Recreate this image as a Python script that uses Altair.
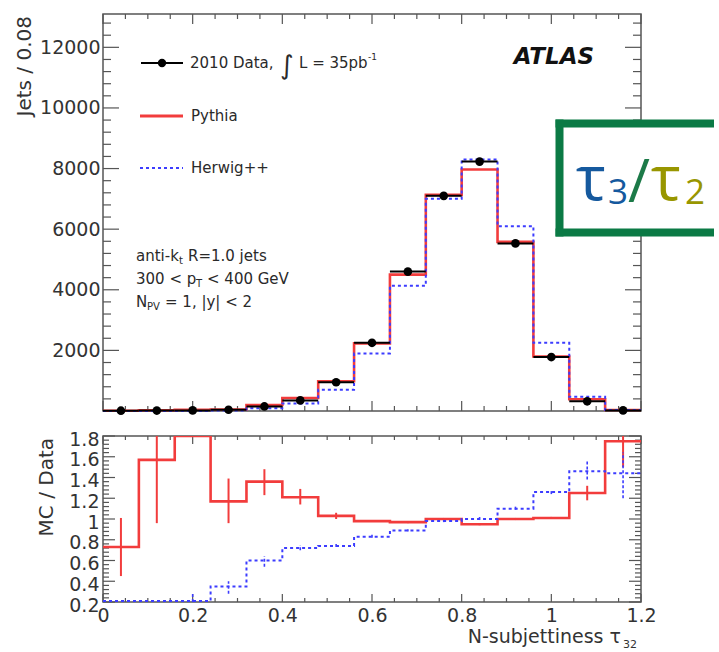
import altair as alt
import pandas as pd

# ---------------- data ----------------
bin_lo = [0.00, 0.08, 0.16, 0.24, 0.32, 0.40, 0.48, 0.56, 0.64, 0.72, 0.80, 0.88, 0.96, 1.04, 1.12]
bin_hi = [0.08, 0.16, 0.24, 0.32, 0.40, 0.48, 0.56, 0.64, 0.72, 0.80, 0.88, 0.96, 1.04, 1.12, 1.20]
bin_mid = [0.04, 0.12, 0.20, 0.28, 0.36, 0.44, 0.52, 0.60, 0.68, 0.76, 0.84, 0.92, 1.00, 1.08, 1.16]

data_jets = [10, 15, 20, 40, 150, 350, 950, 2250, 4600, 7100, 8230, 5530, 1780, 320, 20]
pythia_jets = [8, 24, 40, 48, 200, 430, 980, 2230, 4500, 7130, 7970, 5580, 1800, 390, 35]
herwig_jets = [2, 3, 4, 14, 90, 250, 700, 1900, 4130, 7000, 8300, 6100, 2250, 470, 29]

pythia_ratio = [0.73, 1.57, 1.80, 1.17, 1.36, 1.21, 1.03, 0.98, 0.97, 1.00, 0.95, 1.00, 1.01, 1.25, 1.75]
pythia_ratio_lo = [0.45, 0.96, 1.80, 0.96, 1.23, 1.14, 1.00, 0.97, 0.96, 0.99, 0.94, 0.99, 1.00, 1.18, 1.50]
pythia_ratio_hi = [1.01, 1.85, 1.80, 1.39, 1.48, 1.29, 1.06, 0.99, 0.98, 1.01, 0.96, 1.01, 1.02, 1.32, 1.85]

herwig_ratio = [0.21, 0.21, 0.21, 0.35, 0.60, 0.72, 0.74, 0.83, 0.89, 0.98, 1.00, 1.10, 1.26, 1.46, 1.44]
herwig_ratio_lo = [0.21, 0.21, 0.20, 0.28, 0.54, 0.70, 0.73, 0.82, 0.88, 0.97, 0.99, 1.09, 1.24, 1.38, 1.20]
herwig_ratio_hi = [0.21, 0.21, 0.28, 0.40, 0.64, 0.75, 0.76, 0.85, 0.90, 0.99, 1.02, 1.12, 1.28, 1.56, 1.64]

# axis ticks
x_major = [0.0, 0.2, 0.4, 0.6, 0.8, 1.0, 1.2]
x_minor = [0.05, 0.10, 0.15, 0.25, 0.30, 0.35, 0.45, 0.50, 0.55, 0.65, 0.70, 0.75,
           0.85, 0.90, 0.95, 1.05, 1.10, 1.15]
y1_major = [0, 2000, 4000, 6000, 8000, 10000, 12000]
y1_minor = [v for v in range(400, 13100, 400) if v % 2000]
y2_major = [0.2, 0.4, 0.6, 0.8, 1.0, 1.2, 1.4, 1.6, 1.8]
y2_minor = [round(0.2 + 0.04 * i, 2) for i in range(1, 40) if i % 5]

# ---------------- styling ----------------
W, H1, H2 = 538, 397, 166
RED = "#f23c3c"
BLUE = "#3c3cff"
TICK = "#555555"
TXT = "#2a2a2a"

xs = alt.Scale(domain=[0, 1.2], nice=False, zero=False)
ys1 = alt.Scale(domain=[0, 13100], nice=False)
ys2 = alt.Scale(domain=[0.2, 1.8], nice=False, zero=False)

fmt_expr = "abs(datum.value - round(datum.value)) < 1e-9 ? format(datum.value, 'd') : format(datum.value, '.1f')"

y1_axis = alt.Axis(values=y1_major[1:], format="d", title=None, ticks=False, tickSize=0,
                   domain=False, grid=False, labelPadding=3, labelFontSize=19, labelColor="#333")
y2_axis = alt.Axis(values=y2_major, labelExpr=fmt_expr, title=None, ticks=False, tickSize=0,
                   domain=False, grid=False, labelPadding=4, labelFontSize=19, labelColor="#333",
                   labelOffset=3, labelFlush=False)
x2_axis = alt.Axis(values=x_major, labelExpr=fmt_expr, title=None, ticks=False, tickSize=0,
                   domain=False, grid=False, labelPadding=4, labelFontSize=19, labelColor="#333",
                   labelFlush=False)


def X1(f):
    return alt.X(f, type="quantitative", scale=xs, axis=None)


def X2(f):
    return alt.X(f, type="quantitative", scale=xs, axis=x2_axis)


def Y1(f):
    return alt.Y(f, type="quantitative", scale=ys1, axis=y1_axis)


def Y2(f):
    return alt.Y(f, type="quantitative", scale=ys2, axis=y2_axis)


def txt(t, x, y, size, color=TXT, align="left", baseline="middle", **kw):
    return alt.Chart(pd.DataFrame({"t": [t]})).mark_text(
        fontSize=size, color=color, align=align, baseline=baseline, **kw
    ).encode(x=alt.value(x), y=alt.value(y), text="t:N")


def hline(x1, x2, y, color, width, dash=None):
    kw = dict(color=color, strokeWidth=width)
    if dash:
        kw["strokeDash"] = dash
    return alt.Chart(pd.DataFrame({"a": [0]})).mark_rule(**kw).encode(
        x=alt.value(x1), x2=alt.value(x2), y=alt.value(y))


def vline(x, y1, y2, color, width):
    return alt.Chart(pd.DataFrame({"a": [0]})).mark_rule(color=color, strokeWidth=width).encode(
        x=alt.value(x), y=alt.value(y1), y2=alt.value(y2))


def step_df(vals):
    return pd.DataFrame({"edge": bin_lo + [bin_hi[-1]], "val": vals + [vals[-1]]})


def xticks(values, h, length, X):
    d = pd.DataFrame({"v": values})
    bot = alt.Chart(d).mark_rule(color=TICK, strokeWidth=1.2).encode(
        x=X("v"), y=alt.value(h), y2=alt.value(h - length))
    top = alt.Chart(d).mark_rule(color=TICK, strokeWidth=1.2).encode(
        x=X("v"), y=alt.value(0), y2=alt.value(length))
    return [bot, top]


def yticks(values, length, Y):
    d = pd.DataFrame({"v": values})
    left = alt.Chart(d).mark_rule(color=TICK, strokeWidth=1.2).encode(
        y=Y("v"), x=alt.value(0), x2=alt.value(length))
    right = alt.Chart(d).mark_rule(color=TICK, strokeWidth=1.2).encode(
        y=Y("v"), x=alt.value(W), x2=alt.value(W - length))
    return [left, right]


# ---------------- top panel ----------------
hist = pd.DataFrame({"lo": bin_lo, "hi": bin_hi, "mid": bin_mid, "data": data_jets})

top_layers = []
top_layers += xticks(x_major, H1, 10, X1) + xticks(x_minor, H1, 5, X1)
top_layers += yticks(y1_major, 16, Y1) + yticks(y1_minor, 8, Y1)
top_layers.append(alt.Chart(step_df(pythia_jets)).mark_line(
    interpolate="step-after", color=RED, strokeWidth=2.6).encode(x=X1("edge"), y=Y1("val")))
top_layers.append(alt.Chart(step_df(herwig_jets)).mark_line(
    interpolate="step-after", color=BLUE, strokeWidth=2, strokeDash=[3, 3]).encode(x=X1("edge"), y=Y1("val")))
top_layers.append(alt.Chart(hist).mark_rule(color="black", strokeWidth=2).encode(
    x=X1("lo"), x2="hi", y=Y1("data")))
top_layers.append(alt.Chart(hist).mark_point(filled=True, color="black", size=75, opacity=1).encode(
    x=X1("mid"), y=Y1("data")))

# legend
top_layers.append(hline(38, 80, 49, "black", 2))
top_layers.append(alt.Chart(pd.DataFrame({"a": [0]})).mark_point(
    filled=True, color="black", size=70, opacity=1).encode(x=alt.value(59), y=alt.value(49)))
top_layers.append(txt("2010 Data,", 87, 49, 15))
top_layers.append(txt("\u222b", 177, 52, 26))
top_layers.append(txt("L = 35pb", 196, 49, 15))
top_layers.append(txt("-1", 265, 43, 9))
top_layers.append(hline(37, 80, 102, RED, 3))
top_layers.append(txt("Pythia", 88, 102, 15))
top_layers.append(hline(37, 80, 154, BLUE, 2, [3, 3]))
top_layers.append(txt("Herwig++", 88, 154, 15))

# ATLAS label
top_layers.append(txt("ATLAS", 491, 43, 23, color="#111", align="right",
                      fontStyle="italic", fontWeight="bold"))

# jet selection annotation
top_layers.append(txt("anti-k", 33, 242, 15))
top_layers.append(txt("t", 76, 247, 10))
top_layers.append(txt("R=1.0 jets", 85, 242, 15))
top_layers.append(txt("300 < p", 33, 265, 15))
top_layers.append(txt("T", 93, 270, 10))
top_layers.append(txt("< 400 GeV", 104, 265, 15))
top_layers.append(txt("N", 33, 288, 15))
top_layers.append(txt("PV", 44, 293, 10))
top_layers.append(txt("= 1, |y| < 2", 62, 288, 15))

# y title
top_layers.append(txt("Jets / 0.08", -78, 2, 20, color="#333", align="right", angle=270))

# tau3/tau2 box
top_layers.append(alt.Chart(pd.DataFrame({"a": [0]})).mark_rect(fill="white", stroke=None).encode(
    x=alt.value(456), x2=alt.value(614), y=alt.value(109), y2=alt.value(219)))
GREEN = "#0b7a45"
top_layers.append(vline(456.5, 105.5, 222.5, GREEN, 8))
top_layers.append(hline(452.5, 611, 109.5, GREEN, 8))
top_layers.append(hline(452.5, 611, 218.5, GREEN, 8))
TB = "#15599e"
TO = "#989600"
top_layers.append(txt("\u03c4", 473, 186, 63, color=TB, baseline="alphabetic", font="Open Sans"))
top_layers.append(txt("3", 505, 190, 35, color=TB, baseline="alphabetic", font="Open Sans"))
top_layers.append(txt("/", 525, 188, 60, color="#1c7a48", baseline="alphabetic", font="Open Sans"))
top_layers.append(txt("\u03c4", 548, 186, 63, color=TO, baseline="alphabetic", font="Open Sans"))
top_layers.append(txt("2", 582, 190, 35, color=TO, baseline="alphabetic", font="Open Sans"))

top = alt.layer(*top_layers).properties(width=W, height=H1)

# ---------------- ratio panel ----------------
ratio_p = pd.DataFrame({"mid": bin_mid, "lo": pythia_ratio_lo, "hi": pythia_ratio_hi})
ratio_h = pd.DataFrame({"mid": bin_mid, "lo": herwig_ratio_lo, "hi": herwig_ratio_hi})

bot_layers = []
bot_layers += xticks(x_major, H2, 8, X2) + xticks(x_minor, H2, 4, X2)
bot_layers += yticks(y2_major, 12, Y2) + yticks(y2_minor, 6, Y2)
bot_layers.append(alt.Chart(step_df(pythia_ratio)).mark_line(
    interpolate="step-after", color=RED, strokeWidth=2.6, clip=True).encode(x=X2("edge"), y=Y2("val")))
bot_layers.append(alt.Chart(ratio_p).mark_rule(color=RED, strokeWidth=2, clip=True).encode(
    x=X2("mid"), y=Y2("lo"), y2="hi"))
bot_layers.append(alt.Chart(step_df(herwig_ratio)).mark_line(
    interpolate="step-after", color=BLUE, strokeWidth=2, strokeDash=[3, 3], clip=True).encode(
    x=X2("edge"), y=Y2("val")))
bot_layers.append(alt.Chart(ratio_h).mark_rule(color=BLUE, strokeWidth=1.6, strokeDash=[3, 2], clip=True).encode(
    x=X2("mid"), y=Y2("lo"), y2="hi"))
bot_layers.append(txt("MC / Data", -56, 2, 20, color="#333", align="right", angle=270))
bot_layers.append(txt("N-subjettiness \u03c4", 518, 207, 19, color="#333", align="right", baseline="alphabetic"))
bot_layers.append(txt("32", 520, 212, 11, color="#333", baseline="alphabetic"))

bottom = alt.layer(*bot_layers).properties(width=W, height=H2)

chart = alt.vconcat(top, bottom, spacing=25, bounds="flush").configure(
    font="DejaVu Sans"
).configure_view(stroke="#555555", strokeWidth=1.5).properties(
    padding={"left": 14, "top": 12, "right": 0, "bottom": 0},
    background="white",
)

chart.save("out.html", embed_options={"renderer": "svg", "actions": False})
